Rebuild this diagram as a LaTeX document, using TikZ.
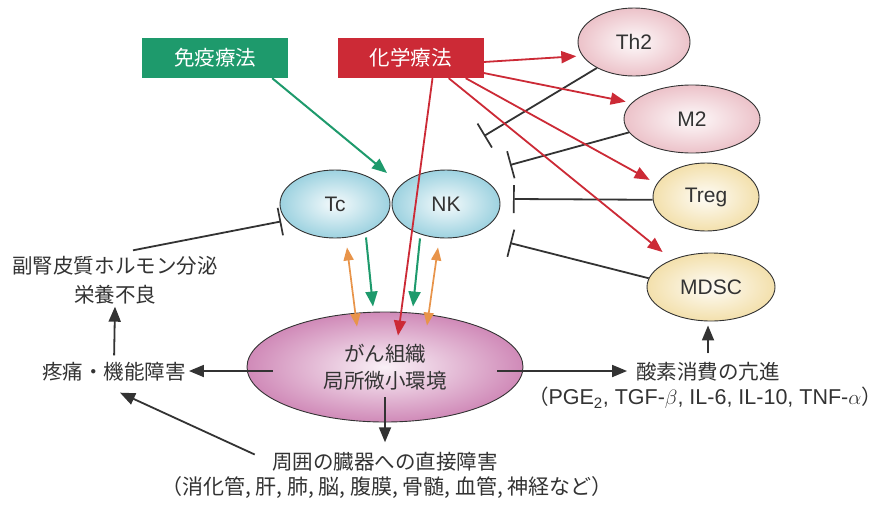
\documentclass[tikz,border=0pt]{standalone}
\usepackage{fontspec}
\setmainfont{Noto Sans CJK JP}
\newfontfamily\lat{Liberation Sans}
\usetikzlibrary{shapes.geometric,arrows.meta,calc}
\definecolor{grn}{HTML}{1E9A6C}
\definecolor{rd}{HTML}{CC2A36}
\definecolor{org}{HTML}{E8944A}
\definecolor{ink}{HTML}{333333}
\definecolor{blu}{HTML}{9DD2E0}
\definecolor{pnk}{HTML}{ECC2C9}
\definecolor{ylw}{HTML}{F3E0AC}
\definecolor{mag}{HTML}{D08AB8}
\begin{document}
\begin{tikzpicture}[x=1pt,y=-1pt,
  cell/.style={ellipse, draw=ink, line width=0.9pt, inner sep=0pt, text=ink,
    font=\lat\fontsize{21}{21}\selectfont},
  txt/.style={font=\fontsize{20.5}{26}\selectfont, text=ink, inner sep=1pt, align=center},
  box/.style={minimum height=40pt, minimum width=146pt, inner sep=0pt, text=white,
    font=\fontsize{20.5}{22}\selectfont},
  arrowtip/.style={-{Triangle[length=15pt,width=12pt]}},
  redarr/.style={arrowtip, draw=rd, fill=rd, line width=1.8pt},
  grnarr/.style={arrowtip, draw=grn, fill=grn, line width=2pt},
  orgarr/.style={{Triangle[length=13pt,width=10pt]}-{Triangle[length=13pt,width=10pt]}, draw=org, fill=org, line width=1.7pt},
  blkarr/.style={arrowtip, draw=ink, fill=ink, line width=1.8pt},
  inh/.style={-{Bar[width=28pt,line width=1.7pt]}, draw=ink, line width=1.8pt}
]
\fill[white] (0,0) rectangle (885,504);
\useasboundingbox (0,0) rectangle (885,504);

% therapy boxes
\node[box, fill=grn] (immuno) at (215,58) {免疫療法};
\node[box, fill=rd] (chemo) at (410.5,58) {化学療法};

% cells
\node[cell, minimum width=110pt, minimum height=68pt, shade, inner color=blu!10, outer color=blu] (tc) at (335,204) {Tc};
\node[cell, minimum width=108pt, minimum height=68pt, shade, inner color=blu!10, outer color=blu] (nk) at (446,204) {NK};
\node[cell, minimum width=112pt, minimum height=68pt, shade, inner color=pnk!8, outer color=pnk] (th2) at (634,42) {Th2};
\node[cell, minimum width=136pt, minimum height=68pt, shade, inner color=pnk!8, outer color=pnk] (m2) at (692,119) {M2};
\node[cell, minimum width=106pt, minimum height=68pt, shade, inner color=ylw!10, outer color=ylw] (treg) at (706,197) {Treg};
\node[cell, minimum width=128pt, minimum height=68pt, shade, inner color=ylw!10, outer color=ylw] (mdsc) at (711,287) {MDSC};
\node[cell, minimum width=276pt, minimum height=110pt, shade, inner color=mag!12, outer color=mag, align=center,
  font=\fontsize{20.5}{27}\selectfont] (cancer) at (385,367) {がん組織\\局所微小環境};

% texts
\node[txt] (adrenal) at (115,266) {副腎皮質ホルモン分泌};
\node[txt] (malnut) at (115,295) {栄養不良};
\node[txt] (pain) at (114,372) {疼痛・機能障害};
\node[txt] (oxy) at (708,372) {酸素消費の亢進};
\node[txt] (cyto) at (705,398) {（{\lat\fontsize{21.5}{26}\selectfont PGE\textsubscript{2}, TGF-}$\beta${\lat\fontsize{21.5}{26}\selectfont , IL-6, IL-10, TNF-}$\alpha$）};
\node[txt] (surr) at (385,462) {周囲の臓器への直接障害};
\node[txt, font=\fontsize{21}{26}\selectfont] (organs) at (387,487) {（消化管, 肝, 肺, 脳, 腹膜, 骨髄, 血管, 神経など）};

% inhibition coordinates
\coordinate (b1) at (484,136);
\coordinate (b2) at (510,165);
\coordinate (b3) at (513,199);
\coordinate (b4) at (510,243);
\coordinate (junc) at (387,173);

% inhibitions
\draw[inh] (th2.215) -- (b1);
\draw[inh] (m2.192) -- (b2);
\draw[inh] (treg.183) -- (b3);
\draw[inh] (mdsc.172) -- (b4);
\draw[inh] ($(adrenal.north)+(18,-5)$) -- ($(tc.200)+(-6,0)$);

% immunotherapy
\draw[grnarr] ([xshift=-16pt]immuno.south east) -- (junc);

% chemotherapy
\draw[redarr, shorten >=6pt] ([yshift=-4pt]chemo.east) -- (th2.195);
\draw[redarr, shorten >=6pt] ([yshift=-15pt]chemo.east) -- (m2.165);
\draw[redarr, shorten >=8pt] ([xshift=-18pt]chemo.south east) -- (treg.165);
\draw[redarr, shorten >=12pt] ([xshift=-35pt]chemo.south east) -- (mdsc.145);
\draw[redarr] ([xshift=22pt]chemo.south) -- ($(cancer.north)+(13,24)$);

% cells <-> cancer
\draw[orgarr] ($(tc.south)+(12,9)$) -- ($(cancer.north)+(-28,15)$);
\draw[orgarr] ($(nk.south)+(-8,9)$) -- ($(cancer.north)+(42,14)$);
\draw[grnarr] ($(tc.south)+(31,-1)$) -- ($(cancer.north)+(-12,-5)$);
\draw[grnarr] ($(nk.south)+(-26,0)$) -- ($(cancer.north)+(28,-5)$);

% consequences
\draw[blkarr, shorten >=2pt] ($(cancer.west)+(26,4)$) -- (pain.east |- 0,371);
\draw[blkarr, shorten <=6pt, shorten >=1pt] (pain.north) -- (malnut.south);
\draw[blkarr, shorten <=18pt] (surr.west) -- ($(pain.south)+(6,10)$);
\draw[blkarr, shorten >=9pt] ($(cancer.south)+(0,-25)$) -- (surr.north);
\draw[blkarr, shorten >=8pt] ($(cancer.east)+(-26,4)$) -- (oxy.west |- 0,371);
\draw[blkarr, shorten <=8pt, shorten >=4pt] (oxy.north) -- (oxy.north |- mdsc.south);
\end{tikzpicture}
\end{document}
